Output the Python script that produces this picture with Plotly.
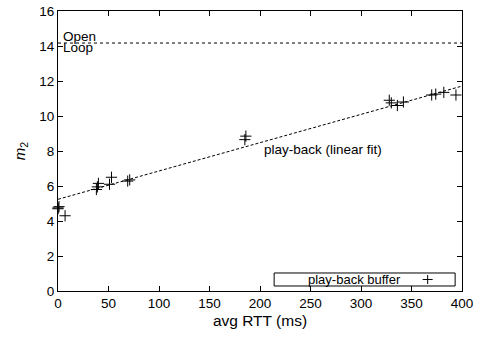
import plotly.graph_objects as go

# Measured play-back buffer sizes versus average round-trip time
rtt_ms = [0, 1, 0, 7, 38, 39, 40, 51, 53, 69, 71, 185, 186,
          328, 330, 336, 342, 370, 374, 382, 394]
m2 = [4.75, 4.82, 4.7, 4.3, 5.8, 5.95, 6.15, 6.1, 6.5, 6.28, 6.35, 8.65, 8.85,
      10.9, 10.75, 10.6, 10.8, 11.2, 11.25, 11.35, 11.2]

# Linear fit of the play-back data (end points over the axis range)
fit_x = [0, 400]
fit_y = [5.24, 11.71]

# Open-loop reference level
open_loop_x = [0, 400]
open_loop_y = [14.17, 14.17]

x_ticks = [0, 50, 100, 150, 200, 250, 300, 350, 400]
y_ticks = [0, 2, 4, 6, 8, 10, 12, 14, 16]

FONT = "Liberation Sans, Arial, Helvetica, sans-serif"

fig = go.Figure()

fig.add_trace(go.Scatter(
    x=open_loop_x, y=open_loop_y, mode="lines",
    line=dict(color="black", width=1, dash="dot"),
    showlegend=False, hoverinfo="skip"))

fig.add_trace(go.Scatter(
    x=fit_x, y=fit_y, mode="lines",
    line=dict(color="black", width=1, dash="3px,2px"),
    showlegend=False, hoverinfo="skip"))

fig.add_trace(go.Scatter(
    x=rtt_ms, y=m2, mode="markers", cliponaxis=False,
    marker=dict(symbol="cross-thin", size=8, line=dict(color="black", width=1)),
    showlegend=False))

axis_common = dict(
    showgrid=False, zeroline=False, showline=True, linecolor="black", linewidth=1,
    mirror="allticks", ticks="inside", ticklen=5, tickcolor="black", tickwidth=1,
    tickfont=dict(family=FONT, size=13.5, color="black"),
)

fig.update_xaxes(range=[0, 400], tickvals=x_ticks,
                 title=dict(text="avg RTT (ms)", font=dict(family=FONT, size=15.5, color="black"),
                            standoff=4),
                 **axis_common)
fig.update_yaxes(range=[0, 16], tickvals=y_ticks,
                 title=dict(text="<i>m</i><sub>2</sub>", font=dict(family=FONT, size=15, color="black"),
                            standoff=10),
                 **axis_common)

annotations = [
    dict(x=0, y=14.57, xref="x", yref="y", text="Open", showarrow=False,
         xanchor="left", yanchor="middle", xshift=3,
         font=dict(family=FONT, size=13.5, color="black")),
    dict(x=0, y=13.91, xref="x", yref="y", text="Loop", showarrow=False,
         xanchor="left", yanchor="middle", xshift=3,
         font=dict(family=FONT, size=13.5, color="black")),
    dict(x=202, y=8.06, xref="x", yref="y", text="play-back (linear fit)", showarrow=False,
         xanchor="left", yanchor="middle", font=dict(family=FONT, size=13.5, color="black")),
    dict(x=0.735, y=0.0411, xref="paper", yref="paper", text="play-back buffer", showarrow=False,
         xanchor="center", yanchor="middle", font=dict(family=FONT, size=13, color="black")),
]
fig.update_layout(annotations=annotations)

# Key box with its sample marker
fig.add_shape(type="rect", xref="paper", yref="paper", x0=0.535, x1=0.983, y0=0.0179, y1=0.0643,
              line=dict(color="black", width=1), fillcolor="white", layer="below")
fig.add_shape(type="line", xref="paper", yref="paper", x0=0.9026, x1=0.9274, y0=0.0411, y1=0.0411,
              line=dict(color="black", width=1))
fig.add_shape(type="line", xref="paper", yref="paper", x0=0.915, x1=0.915, y0=0.0250, y1=0.0571,
              line=dict(color="black", width=1))

fig.update_layout(
    width=477, height=337,
    margin=dict(l=58, r=15, t=11, b=46, autoexpand=False),
    paper_bgcolor="white", plot_bgcolor="white",
    showlegend=False,
)

fig.write_html("out.html")
